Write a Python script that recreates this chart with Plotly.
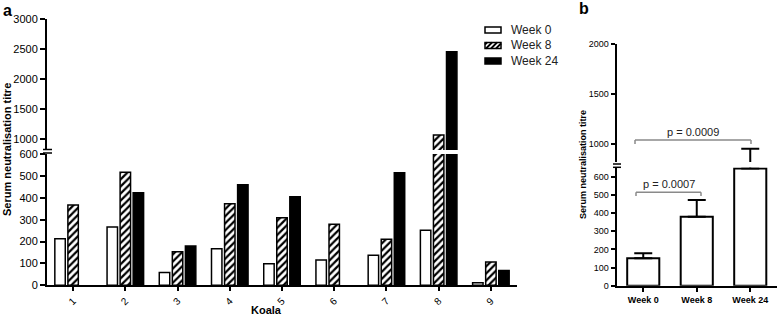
import plotly.graph_objects as go

W, H = 778, 323
def fx(p):
    return p / W
def fy(p):
    return 1 - p / H

# ---------------- data ----------------
# Panel a: neutralisation titre per koala
koalas = ["1", "2", "3", "4", "5", "6", "7", "8", "9"]
week0 = [213, 266, 58, 167, 99, 116, 137, 251, 12]
week8 = [367, 517, 153, 373, 309, 279, 210, 1067, 106]
week24 = [None, 423, 180, 459, 405, None, 514, 2455, 68]
series_names = ["Week 0", "Week 8", "Week 24"]
yticks_a_low = [0, 100, 200, 300, 400, 500, 600]
yticks_a_high = [1000, 1500, 2000, 2500, 3000]

# Panel b: mean +/- SEM
groups_b = ["Week 0", "Week 8", "Week 24"]
mean_b = [151, 380, 645]
sem_b = [27, 92, 308]
yticks_b_low = [0, 100, 200, 300, 400, 500, 600]
yticks_b_high = [1000, 1500, 2000]
pvals = ["p = 0.0007", "p = 0.0009"]

FONT = "Liberation Sans, Arial, sans-serif"
fig = go.Figure()

styles = [
    dict(color="white", line=dict(color="black", width=1.5)),
    dict(color="white", line=dict(color="black", width=1.5),
         pattern=dict(shape="/", fgcolor="black", bgcolor="white", size=5, solidity=0.45)),
    dict(color="black", line=dict(color="black", width=1.5)),
]
for yax in ["y", "y2"]:
    for name, vals, st in zip(series_names, [week0, week8, week24], styles):
        fig.add_trace(go.Bar(x=koalas, y=vals, name=name, marker=st,
                             xaxis="x", yaxis=yax, showlegend=False, hoverinfo="skip"))

for yax in ["y3", "y4"]:
    fig.add_trace(go.Bar(
        x=groups_b, y=mean_b, width=0.6, xaxis="x2", yaxis=yax, showlegend=False,
        marker=dict(color="white", line=dict(color="black", width=2)),
        error_y=dict(type="data", array=sem_b, arrayminus=[0] * len(sem_b), symmetric=False,
                     color="black", thickness=2, width=9),
        hoverinfo="skip"))

axis_common = dict(showline=True, linecolor="black", linewidth=2, ticks="outside",
                   tickcolor="black", tickwidth=1.5, showgrid=False, zeroline=False,
                   automargin=False)

fig.update_layout(
    template="none",
    width=W, height=H,
    margin=dict(l=0, r=0, t=0, b=0),
    paper_bgcolor="white", plot_bgcolor="rgba(0,0,0,0)",
    barmode="group", bargap=0.25, bargroupgap=0.2,
    font=dict(family=FONT, color="black"),
    xaxis=dict(axis_common, domain=[fx(47), fx(517)], anchor="y", type="category",
               tickangle=-45, ticklen=4, tickfont=dict(size=10, color="black")),
    yaxis=dict(axis_common, domain=[fy(285.3), fy(154)], anchor="x", range=[0, 600],
               tickvals=yticks_a_low, ticklen=5, tickfont=dict(size=11, color="black")),
    yaxis2=dict(axis_common, domain=[fy(150), fy(19)], anchor="x", range=[817, 3000],
                tickvals=yticks_a_high, ticklen=5, tickfont=dict(size=11, color="black")),
    xaxis2=dict(axis_common, domain=[fx(616.5), fx(777)], anchor="y3", type="category",
                ticklen=4, tickfont=dict(size=9, weight="bold", color="black")),
    yaxis3=dict(axis_common, domain=[fy(285.7), fy(167.6)], anchor="x2", range=[0, 650],
                tickvals=yticks_b_low, ticklen=4, tickfont=dict(size=9, color="black")),
    yaxis4=dict(axis_common, domain=[fy(162), fy(44.3)], anchor="x2", range=[820, 2000],
                tickvals=yticks_b_high, ticklen=4, tickfont=dict(size=9, color="black")),
)

shapes = []
def pline(x0, y0, x1, y1, color="black", width=1.5):
    shapes.append(dict(type="line", xref="paper", yref="paper",
                       x0=fx(x0), y0=fy(y0), x1=fx(x1), y1=fy(y1),
                       line=dict(color=color, width=width)))

# axis break marks
for yy in (149.5, 153):
    pline(43, yy, 52, yy)
for yy in (164, 167.3):
    pline(613, yy, 621, yy)

# p-value brackets
GRAY = "#8a8a8a"
pline(636, 192.3, 701, 192.3, GRAY)
pline(636, 192.3, 636, 196, GRAY)
pline(701, 192.3, 701, 196, GRAY)
pline(635, 140, 751, 140, GRAY)
pline(635, 140, 635, 144, GRAY)
pline(751, 140, 751, 144, GRAY)

# legend
row_y = [30, 45.5, 61]
bx0, bx1, bh = 485, 501, 6
for i, yc in enumerate(row_y):
    fill = "black" if i == 2 else "white"
    shapes.append(dict(type="rect", xref="paper", yref="paper",
                       x0=fx(bx0), x1=fx(bx1), y0=fy(yc + bh / 2), y1=fy(yc - bh / 2),
                       fillcolor=fill, line=dict(color="black", width=1.5)))
    if i == 1:
        bottom, top = yc + bh / 2, yc - bh / 2
        for sx in (481, 486, 491, 496):
            t0 = max(0, (bx0 - sx) / bh)
            t1 = min(1, (bx1 - sx) / bh)
            if t1 <= t0:
                continue
            pline(sx + bh * t0, bottom - bh * t0, sx + bh * t1, bottom - bh * t1, width=1.8)

fig.update_layout(shapes=shapes)

ann = []
def text(x, y, s, size, bold=False, angle=0, color="black", xanchor="center"):
    ann.append(dict(xref="paper", yref="paper", x=fx(x), y=fy(y), text=s, showarrow=False,
                    xanchor=xanchor, yanchor="middle", textangle=angle,
                    font=dict(size=size, color=color, family=FONT,
                              weight="bold" if bold else "normal")))

text(7, 10, "a", 16, bold=True)
text(584, 9, "b", 16, bold=True)
text(7, 150, "Serum neutralisation titre", 11, bold=True, angle=-90)
text(583, 165, "Serum neutralisation titre", 9, bold=True, angle=-90)
text(266, 310, "Koala", 11, bold=True)
for name, yc in zip(series_names, row_y):
    text(509, yc, name, 12, xanchor="left", color="#222")
text(668.5, 184, pvals[0], 11, color="#222")
text(693, 132, pvals[1], 11, color="#222")
fig.update_layout(annotations=ann)

fig.write_html("out.html", config={"displayModeBar": False},
               post_script="document.body.style.margin='0';")
